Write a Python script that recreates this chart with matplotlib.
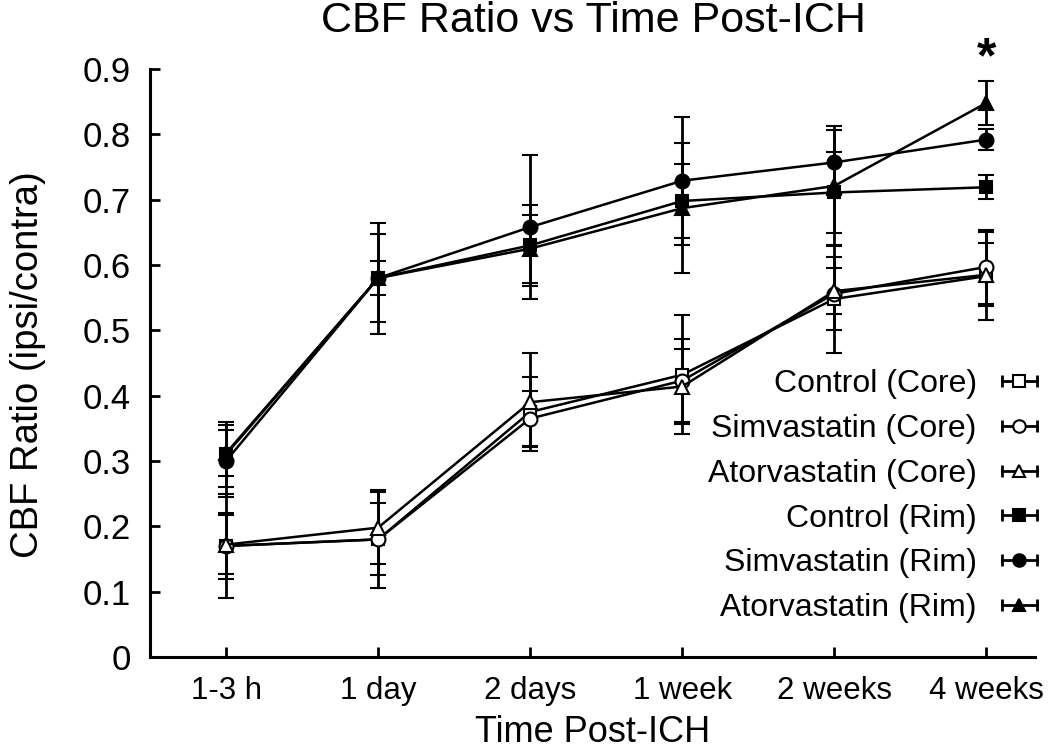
import matplotlib
matplotlib.use('Agg')
import matplotlib.pyplot as plt
from matplotlib.lines import Line2D
from matplotlib.legend_handler import HandlerLine2D, HandlerTuple

plt.rcParams['font.family'] = ['Liberation Sans', 'DejaVu Sans']

times = ['1-3 h', '1 day', '2 days', '1 week', '2 weeks', '4 weeks']

ctrl_core = [0.170, 0.180, 0.375, 0.432, 0.548, 0.583]
ctrl_core_err = [0.080, 0.075, 0.054, 0.091, 0.082, 0.067]
simva_core = [0.170, 0.180, 0.365, 0.423, 0.556, 0.597]
simva_core_err = [0.050, 0.055, 0.042, 0.063, 0.056, 0.057]
atorva_core = [0.172, 0.198, 0.390, 0.414, 0.560, 0.585]
atorva_core_err = [0.045, 0.055, 0.075, 0.058, 0.035, 0.048]

ctrl_rim = [0.310, 0.580, 0.630, 0.698, 0.711, 0.719]
ctrl_rim_err = [0.050, 0.068, 0.062, 0.056, 0.062, 0.018]
simva_rim = [0.300, 0.580, 0.658, 0.729, 0.757, 0.792]
simva_rim_err = [0.055, 0.026, 0.110, 0.098, 0.050, 0.016]
atorva_rim = [0.312, 0.580, 0.625, 0.687, 0.721, 0.848]
atorva_rim_err = [0.035, 0.085, 0.052, 0.099, 0.092, 0.033]

labels = ['Control (Core)', 'Simvastatin (Core)', 'Atorvastatin (Core)',
          'Control (Rim)', 'Simvastatin (Rim)', 'Atorvastatin (Rim)']
series = [ctrl_core, simva_core, atorva_core, ctrl_rim, simva_rim, atorva_rim]
errors = [ctrl_core_err, simva_core_err, atorva_core_err,
          ctrl_rim_err, simva_rim_err, atorva_rim_err]
markers = ['s', 'o', '^', 's', 'o', '^']
fills = ['white', 'white', 'white', 'black', 'black', 'black']

fig = plt.figure(figsize=(10.5, 7.51), dpi=100)
ax = fig.add_axes([150 / 1050, 1 - 657 / 751, 885 / 1050, 588 / 751])

x = list(range(len(times)))
handles = []
handler_map = {}
for y, err, m, fc, lab in zip(series, errors, markers, fills, labels):
    ms = 9 if m == 's' else 10
    ax.errorbar(x, y, yerr=err, color='black', marker=m, markersize=ms,
                markerfacecolor=fc, markeredgecolor='black', markeredgewidth=1.5,
                linewidth=1.8, elinewidth=2, capsize=6, capthick=2)
    # legend handle: horizontal bar with end caps and the marker on top
    caps = Line2D([], [], color='black', marker='|', markersize=8,
                  markeredgewidth=2, linewidth=2)
    mark = Line2D([], [], color='black', marker=m, markersize=ms - 1,
                  markerfacecolor=fc, markeredgecolor='black',
                  markeredgewidth=1.5, linewidth=0)
    handler_map[caps] = HandlerLine2D(numpoints=2, marker_pad=0)
    handles.append((caps, mark))

handler_map[tuple] = HandlerTuple(ndivide=1, pad=0)
ax.legend(handles, labels, handler_map=handler_map, loc='lower right',
          bbox_to_anchor=(1.002, 0.058), frameon=False, markerfirst=False,
          fontsize=23, handlelength=1.1, handletextpad=0.78, labelspacing=0.46,
          borderpad=0, borderaxespad=0)

ax.text(5, 0.915, '*', ha='center', va='center', fontsize=36, fontweight='bold',
        clip_on=False)

ax.set_xlim(-0.5, 5.32)
ax.set_ylim(0, 0.9)
ax.set_xticks(x)
ax.set_xticklabels(times, fontsize=22.5)
ax.set_yticks([0, 0.1, 0.2, 0.3, 0.4, 0.5, 0.6, 0.7, 0.8, 0.9])
ax.set_yticklabels(['0', '0.1', '0.2', '0.3', '0.4', '0.5', '0.6', '0.7', '0.8', '0.9'],
                   fontsize=25)
ax.tick_params(direction='in', length=7, width=2)
ax.tick_params(axis='y', pad=14)
ax.tick_params(axis='x', pad=14)
for s in ['top', 'right']:
    ax.spines[s].set_visible(False)
for s in ['left', 'bottom']:
    ax.spines[s].set_linewidth(2.2)

ax.set_xlabel('Time Post-ICH', fontsize=26, labelpad=6)
fig.text(0.027, 1 - 365 / 751, 'CBF Ratio (ipsi/contra)', rotation=90,
         ha='center', va='center', fontsize=27.5)
fig.text(0.565, 0.972, 'CBF Ratio vs Time Post-ICH', ha='center', va='center',
         fontsize=31)

fig.savefig('out.png', dpi=100)
